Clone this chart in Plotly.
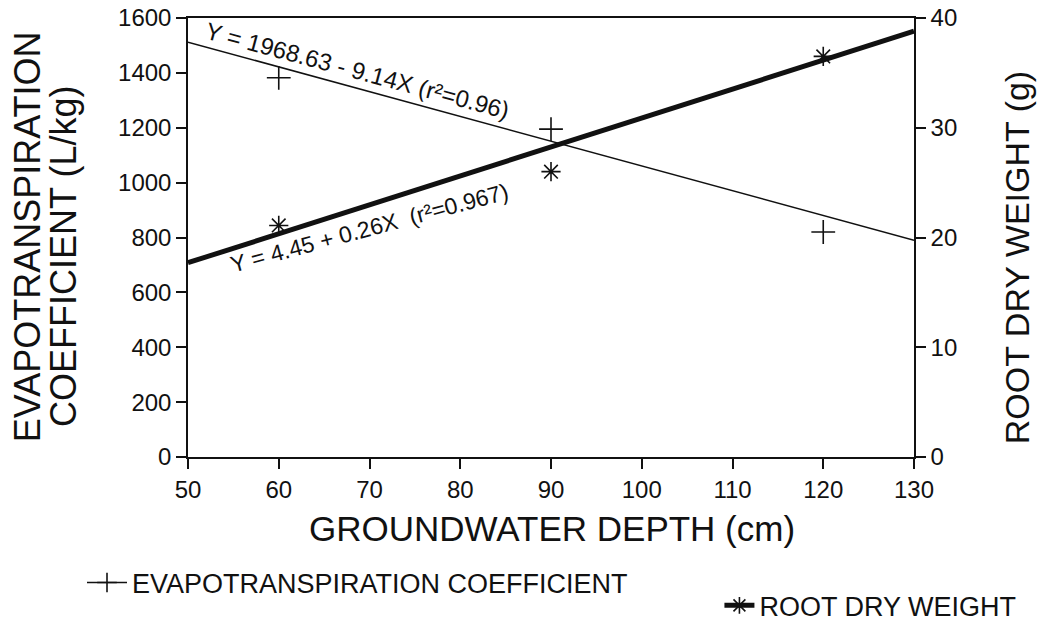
import plotly.graph_objects as go

# ---- data ----
depth = [60, 90, 120]                 # groundwater depth (cm)
et_coef = [1382, 1195, 820]           # evapotranspiration coefficient (L/kg)
root_dw = [21.1, 26.0, 36.5]          # root dry weight (g)
fit_depth = [50, 130]                 # regression line end points
et_fit = [1512, 790]                  # Y = 1968.63 - 9.14X
rdw_fit = [17.7, 38.8]                # Y = 4.45 + 0.26X
x_ticks = [50, 60, 70, 80, 90, 100, 110, 120, 130]
y_ticks = [0, 200, 400, 600, 800, 1000, 1200, 1400, 1600]
y2_ticks = [0, 10, 20, 30, 40]

FONT = "Liberation Sans, Arial, Helvetica, sans-serif"
INK = "#111111"

fig = go.Figure()

fig.add_trace(go.Scatter(x=fit_depth, y=et_fit, mode="lines",
                         line=dict(color=INK, width=1.5), showlegend=False, hoverinfo="skip"))
fig.add_trace(go.Scatter(x=depth, y=et_coef, mode="markers", showlegend=False,
                         marker=dict(symbol="cross-thin", size=17, color=INK,
                                     line=dict(color=INK, width=1.6))))
fig.add_trace(go.Scatter(x=fit_depth, y=rdw_fit, yaxis="y2", mode="lines",
                         line=dict(color=INK, width=5), showlegend=False, hoverinfo="skip"))
fig.add_trace(go.Scatter(x=depth, y=root_dw, yaxis="y2", mode="markers", showlegend=False,
                         marker=dict(symbol="asterisk", size=16, color=INK,
                                     line=dict(color=INK, width=1.6))))

# legend entries
fig.add_trace(go.Scatter(x=[None], y=[None], mode="lines+markers",
                         name="EVAPOTRANSPIRATION COEFFICIENT", legend="legend",
                         line=dict(color=INK, width=1.5),
                         marker=dict(symbol="cross-thin", size=14, color=INK,
                                     line=dict(color=INK, width=1.6))))
fig.add_trace(go.Scatter(x=[None], y=[None], yaxis="y2", mode="lines+markers",
                         name="ROOT DRY WEIGHT", legend="legend2",
                         line=dict(color=INK, width=5),
                         marker=dict(symbol="asterisk", size=14, color=INK,
                                     line=dict(color=INK, width=1.6))))

axis_common = dict(showline=True, linecolor=INK, linewidth=1.5, ticks="outside",
                   ticklen=10, tickwidth=1.5, tickcolor=INK, showgrid=False,
                   zeroline=False, ticklabeloverflow="allow",
                   tickfont=dict(family=FONT, size=24, color=INK))

fig.update_layout(
    width=1041, height=621,
    margin=dict(l=188, r=127, t=18, b=164, autoexpand=False),
    paper_bgcolor="white", plot_bgcolor="white",
    font=dict(family=FONT, color=INK),
    xaxis=dict(range=[50, 130], tickvals=x_ticks, mirror=True, automargin=False, **axis_common),
    yaxis=dict(range=[0, 1600], tickvals=y_ticks, automargin=False, **axis_common),
    yaxis2=dict(range=[0, 40], tickvals=y2_ticks, overlaying="y", side="right",
                automargin=False, **axis_common),
    legend=dict(x=-0.146, y=-0.287, xanchor="left", yanchor="middle",
                font=dict(family=FONT, size=27, color=INK), itemwidth=40,
                bgcolor="rgba(0,0,0,0)"),
    legend2=dict(x=0.732, y=-0.339, xanchor="left", yanchor="middle",
                 font=dict(family=FONT, size=27, color=INK), itemwidth=30,
                 bgcolor="rgba(0,0,0,0)"),
    showlegend=True,
)

ann = []
ann.append(dict(text="EVAPOTRANSPIRATION", xref="paper", yref="paper", x=-0.2218, y=0.503,
                textangle=-90, showarrow=False, font=dict(family=FONT, size=36, color=INK),
                xanchor="center", yanchor="middle"))
ann.append(dict(text="COEFFICIENT (L/kg)", xref="paper", yref="paper", x=-0.1708, y=0.458,
                textangle=-90, showarrow=False, font=dict(family=FONT, size=36, color=INK),
                xanchor="center", yanchor="middle"))
ann.append(dict(text="ROOT DRY WEIGHT (g)", xref="paper", yref="paper", x=1.142, y=0.453,
                textangle=-90, showarrow=False, font=dict(family=FONT, size=34, color=INK),
                xanchor="center", yanchor="middle"))
ann.append(dict(text="GROUNDWATER DEPTH (cm)", xref="paper", yref="paper", x=0.501, y=-0.162,
                showarrow=False, font=dict(family=FONT, size=35, color=INK),
                xanchor="center", yanchor="middle"))
ann.append(dict(text="Y = 1968.63 - 9.14X (r²=0.96)", xref="x", yref="y", x=68.7, y=1410,
                textangle=15, showarrow=False, font=dict(family=FONT, size=24, color=INK),
                xanchor="center", yanchor="middle"))
ann.append(dict(text="Y = 4.45 + 0.26X  (r²=0.967)", xref="x", yref="y", x=70.0, y=835,
                textangle=-15, showarrow=False, font=dict(family=FONT, size=23, color=INK),
                xanchor="center", yanchor="middle"))
fig.update_layout(annotations=ann)

# remove the page's default 8px body margin so the figure fills the window exactly
fig.write_html("out.html", config={"displayModeBar": False},
               post_script="document.body.style.margin='0px';")
